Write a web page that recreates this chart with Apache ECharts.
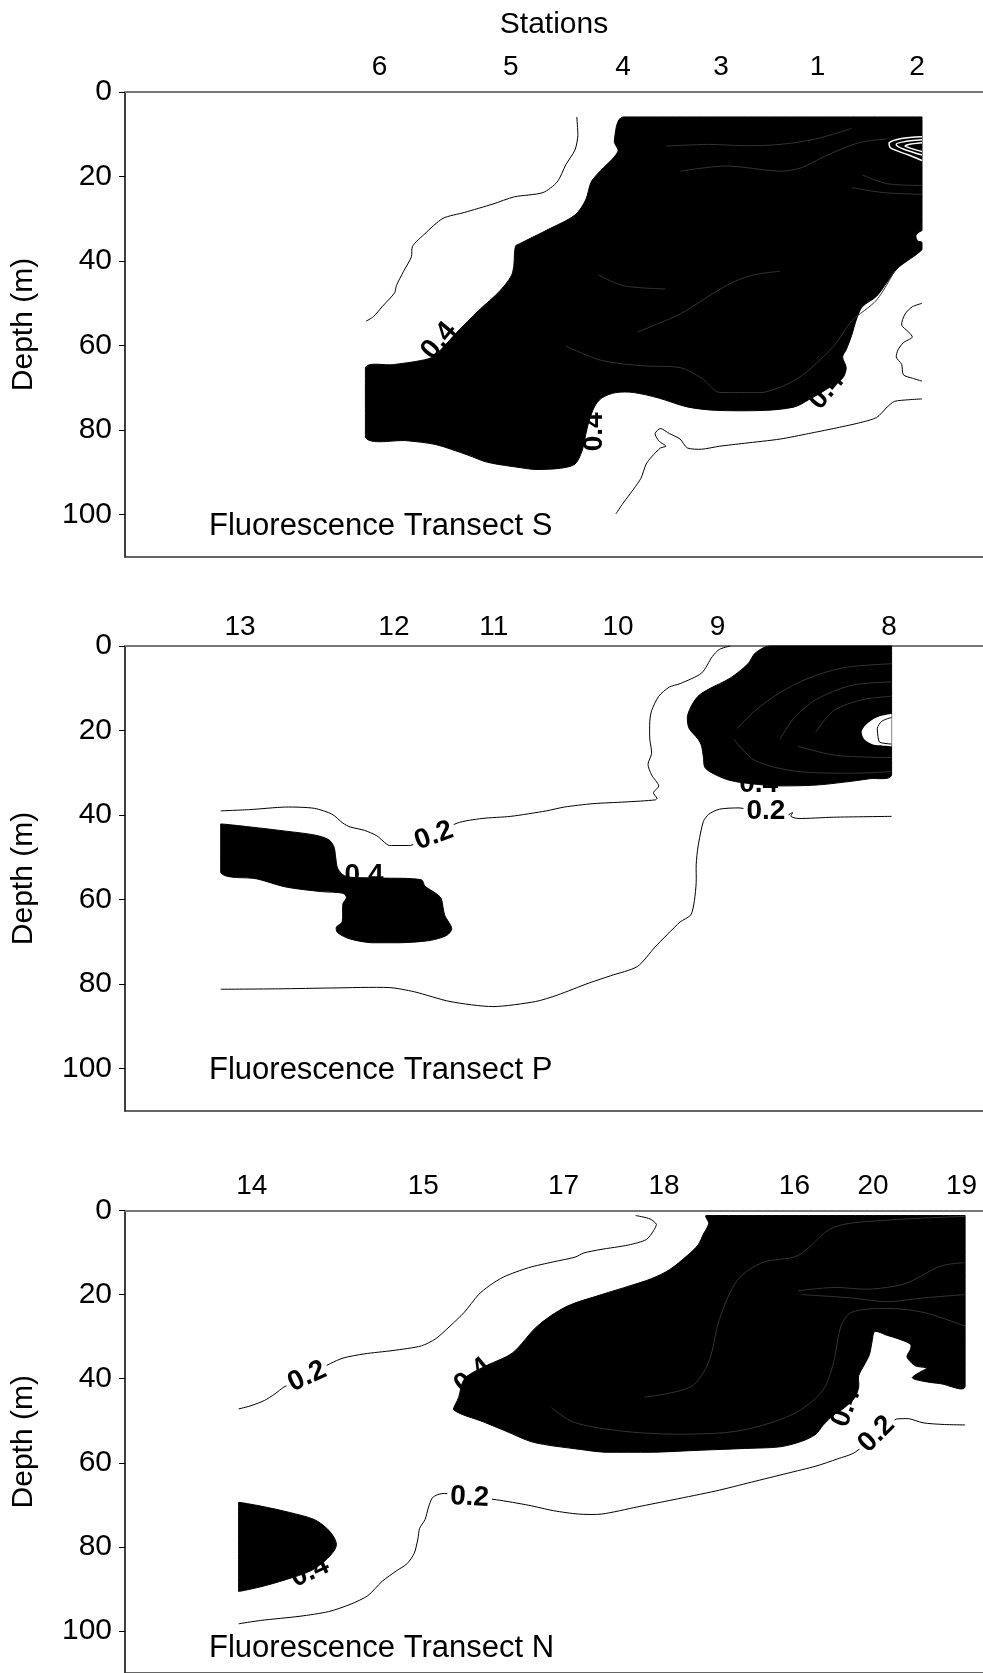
<!DOCTYPE html>
<html>
<head>
<meta charset="utf-8">
<title>Fluorescence transects</title>
<script src="https://cdn.jsdelivr.net/npm/echarts@6/dist/echarts.min.js"></script>
<style>
    html, body { margin: 0; padding: 0; background: #fff; }
    #chart { width: 983px; height: 1673px; }
</style>
</head>
<body>
<div id="chart"></div>
<script>
// x = distance along the transect (plot units), depth in m

// ---- Transect S ----
const stationNamesS = ['6', '5', '4', '3', '1', '2'];
const stationPosS = [254.6, 385.7, 498, 596, 692.6, 792];
const fillS = [
    [498.2, 5.9], [797, 5.9], [797, 32.7], [794.4, 33.1], [790.9, 34.0], [792.6, 35.2], [797, 35.6],
    [797, 37.3], [773, 41.6], [762.3, 44.9], [751.6, 48.3], [737.3, 50.8], [732, 53.4], [726.6, 57.6],
    [721.2, 61.0], [717.6, 62.7], [721.2, 65.2], [717.6, 67.7], [701.6, 70.3], [683.7, 72.8],
    [669.4, 74.5], [640.9, 75.3], [590.9, 75.3], [562.3, 74.5], [533.7, 72.4], [508.7, 71.1],
    [490.9, 71.1], [476.6, 72.4], [469.4, 74.5], [464, 77.9], [460.5, 81.3], [456.9, 85.0],
    [450, 88.0], [435.7, 89.0], [410.7, 89.3], [396.4, 88.9], [362.5, 87.6], [342.9, 85.9],
    [310.7, 83.4], [282.1, 82.5], [240.4, 81.7], [240.4, 65.2], [267.9, 64.5], [296.4, 63.5],
    [308.9, 62.5], [332.1, 56.8], [353.6, 51.7], [375, 47.0], [387.5, 42.8], [390.4, 36.5],
    [394.6, 35.9], [425, 32.3], [450, 29.1], [460.7, 25.5], [466.1, 21.3], [473.2, 19.2],
    [492.9, 14.1], [489.3, 11.6]
];
const innerS = [
    [[540.9, 12.8], [583.7, 12.4], [619.4, 12.7], [655.1, 12.4], [690.9, 11.1], [726.6, 8.6]],
    [[555.1, 18.75], [601.6, 17.5], [655.1, 18.75], [676.6, 17.9], [698, 15.4], [733.7, 12.0], [762.3, 11.1]],
    [[512.3, 56.8], [555.1, 52.5], [583.7, 48.3], [608.7, 44.9], [630.1, 43.2], [655.1, 42.4]],
    [[440.9, 60.1], [476.6, 63.5], [519.4, 64.8], [555.1, 65.2], [576.6, 67.7], [594.4, 71.1],
     [637.3, 71.1], [673, 67.7], [708.7, 60.1], [726.6, 54.2], [751.6, 49.2], [769.4, 42.4]],
    [[473, 43.2], [498, 45.8], [540.9, 46.6]],
    [[797, 22.1], [762.3, 21.7], [737.3, 19.6]],
    [[797, 24.2], [758.7, 23.8], [726.6, 22.6]]
];
const ringsS = [
    [[797, 10.6], [776.6, 11.0], [764.1, 12.0], [765.9, 13.3], [783.7, 14.9], [797, 16.2]],
    [[797, 11.3], [778.4, 11.8], [771.2, 12.4], [778.4, 13.5], [797, 14.9]],
    [[797, 12.0], [783.7, 12.4], [780.1, 12.8], [797, 14.1]]
];
const linesS = [
    [[451.8, 5.9], [452.9, 10.3], [450, 13.7], [441.1, 17.1], [432.1, 21.3], [417.9, 23.8], [389.3, 24.8],
     [367.9, 26.5], [339.3, 28.5], [317.9, 29.9], [300, 33.5], [287.5, 36.5], [286.4, 39.0], [278.6, 42.4],
     [271.4, 45.8], [269.6, 47.5], [257.1, 50.8], [248.2, 53.2], [241.1, 54.2]],
    [[490.9, 99.8], [498, 97.3], [508.7, 93.9], [515.9, 91.4], [521.2, 88.0], [526.6, 86.3], [535.5, 84.2],
     [540.9, 83.8], [533.7, 82.5], [530.1, 80.8], [535.5, 79.6], [544.4, 80.8], [555.1, 82.1], [562.3, 84.2],
     [576.6, 84.5], [594.4, 83.8], [619.4, 83.1], [655.1, 82.1], [683.7, 80.8], [708.7, 79.6], [733.7, 78.3],
     [751.6, 77.0], [762.3, 74.5], [769.4, 73.2], [783.7, 72.8], [797, 72.6]],
    [[797, 50.0], [787.3, 50.8], [780.1, 52.5], [776.6, 55.1], [783.7, 56.8], [787.3, 58.0], [778.4, 59.3],
     [773, 61.0], [771.2, 62.7], [776.6, 64.4], [778.4, 66.9], [787.3, 67.7], [797, 68.4]]
];
const labelsS = [[314, 58.9, '0.4'], [469, 80.4, '0.4'], [701.6, 70.7, '0.4']];
const labelAngleS = [50, 90, 50];

// ---- Transect P ----
const stationNamesP = ['13', '12', '11', '10', '9', '8'];
const stationPosP = [115, 268.9, 368.9, 493, 592.6, 764.1];
const fillP = [
    [[95.7, 42.1], [125, 42.8], [160.7, 43.8], [189.3, 44.7], [203.6, 45.8], [208.9, 47.5], [210.7, 50.0],
     [212.5, 52.5], [217.9, 54.1], [225, 54.7], [257.1, 54.9], [296.4, 55.3], [300, 56.8], [310.7, 58.5],
     [316.1, 59.7], [319.6, 63.6], [326.8, 66.9], [321.4, 68.5], [303.6, 69.7], [275, 70.2], [246.4, 70.2],
     [225, 69.3], [212.5, 67.8], [211.4, 66.5], [217.1, 65.3], [217.9, 61.0], [221.4, 59.5], [217.9, 58.5],
     [196.4, 58.1], [160.7, 57.0], [132.1, 55.1], [95.7, 53.6]],
    [[644.4, 0], [766.6, 0], [766.6, 30.5], [744.4, 31.4], [719.4, 32.2], [690.9, 32.9], [655.1, 33.1],
     [626.6, 32.6], [605.1, 31.8], [590.9, 30.5], [580.1, 28.8], [578.4, 26.3], [576.6, 23.7], [573, 22.0],
     [564.1, 19.5], [562.3, 16.9], [565.9, 14.4], [573, 11.9], [583.7, 10.2], [605.1, 7.6], [623, 4.2],
     [630.1, 1.7]]
];
const innerP = [
    [[612.3, 19.5], [630.1, 15.3], [655.1, 11.0], [683.7, 7.6], [719.4, 5.1], [766.6, 4.2]],
    [[608.7, 22.0], [630.1, 27.1], [673, 29.7], [726.6, 30.1], [766.6, 29.7]],
    [[655.1, 22.0], [669.4, 16.9], [690.9, 12.7], [726.6, 9.3], [766.6, 8.5]],
    [[673, 23.7], [708.7, 25.8], [744.4, 26.3], [766.6, 26.4]],
    [[690.9, 20.3], [708.7, 15.3], [737.3, 12.7], [766.6, 11.9]]
];
const holeP = [[766.6, 16.1], [751.6, 16.9], [740.9, 18.6], [736.6, 20.3], [739.1, 22.0], [748, 23.3], [766.6, 23.7]];
const holeLineP = [[766.6, 16.9], [756.8, 17.8], [752.3, 19.5], [753.4, 22.0], [755, 22.8], [766.6, 23.2]];
const linesP = [
    [[95.7, 39.0], [125, 38.7], [160.7, 38.1], [189.3, 38.4], [207.1, 39.8], [217.9, 41.9], [225, 42.8],
     [239.3, 43.6], [251.8, 44.9], [264.3, 47.2], [285.7, 47.2], [332.1, 41.9], [357.1, 40.8], [385.7, 40.3],
     [421.4, 39.0], [439.3, 38.1], [467.9, 37.3], [500, 36.9], [530.4, 36.4], [531.9, 36.0], [528.4, 34.7],
     [533.7, 33.1], [526.6, 30.5], [523, 28.0], [526.6, 25.4], [524.8, 22.0], [524.8, 17.8], [526.6, 15.3],
     [533.7, 11.9], [544.4, 9.7], [555.1, 8.9], [576.6, 6.4], [587.3, 2.5], [594.4, 0.8], [605.1, 0]],
    [[95.7, 81.2], [153.6, 81.1], [207.1, 80.9], [264.3, 80.8], [289.3, 81.8], [325, 84.1], [367.9, 85.3],
     [410.7, 84.1], [432.1, 82.6], [464.3, 79.7], [485.7, 78.0], [512.5, 75.8], [530.1, 71.2], [555.1, 65.3],
     [565.9, 63.6], [569.4, 60.2], [571.2, 55.9], [571.2, 51.7], [573, 47.5], [578.4, 41.5], [583.7, 39.8],
     [594.4, 38.6], [614.1, 38.3], [662.3, 40.0], [667.6, 39.4], [665.9, 40.3], [673, 40.8], [708.7, 40.5],
     [766.6, 40.3]]
];
const labelsP = [[309, 44.9, '0.2'], [239, 54.2, '0.4'], [633.7, 32.6, '0.4'], [640.9, 39.0, '0.2']];
const labelAngleP = [20, 0, 0, 0];

// ---- Transect N ----
const stationNamesN = ['14', '15', '17', '18', '16', '20', '19'];
const stationPosN = [126.8, 298.2, 438.6, 539, 669.4, 748, 836.6];
const fillN = [
    [[113.6, 69.4], [135.7, 70.3], [164.3, 71.8], [189.3, 73.5], [201.8, 75.6], [208.9, 77.7], [211.4, 79.4],
     [208.9, 81.0], [200, 83.3], [185.7, 85.7], [160.7, 87.8], [135.7, 89.5], [113.6, 90.6]],
    [[581.2, 1.2], [840.1, 1.2], [840.1, 41.9], [815.9, 41.2], [798, 40.6], [787.3, 39.8], [794.4, 38.5],
     [801.6, 37.5], [790.9, 37.0], [785.5, 36.0], [781.9, 34.7], [785.5, 33.0], [785.5, 31.8], [773, 30.5],
     [762.3, 29.7], [749.8, 28.8], [747.3, 30.9], [744.4, 34.3], [739.1, 36.8], [733.7, 39.3], [733.7, 41.9],
     [730.1, 44.4], [719.4, 46.9], [708.7, 48.6], [698, 51.1], [690.9, 53.2], [676.6, 54.9], [655.1, 56.2],
     [619.4, 56.6], [576.6, 57.0], [526.6, 57.5], [480.1, 57.5], [448, 56.6], [423, 55.8], [405.1, 54.9],
     [380.1, 52.4], [358.7, 50.3], [328.4, 47.3], [333.7, 44.4], [337.3, 41.0], [342.6, 39.3], [362.3, 36.8],
     [387.3, 33.9], [412.3, 27.5], [440.9, 22.9], [476.6, 20.0], [505.1, 17.9], [526.6, 16.2], [544.4, 14.1],
     [562.3, 10.7], [573, 8.2], [578.4, 5.6], [583.7, 3.1]]
];
const innerN = [
    [[426.6, 46.9], [448, 50.3], [494.4, 52.4], [548, 53.2], [601.6, 52.8], [637.3, 51.1], [673, 47.8],
     [698, 42.7], [708.7, 36.0], [715.9, 27.5], [726.6, 24.2], [762.3, 23.3], [798, 24.2], [840.1, 27.5]],
    [[519.4, 44.4], [565.9, 41.9], [583.7, 36.0], [594.4, 25.9], [612.3, 16.6], [637.3, 12.4], [673, 10.7],
     [708.7, 4.0], [762.3, 2.3], [840.1, 1.4]],
    [[673, 19.1], [708.7, 18.3], [744.4, 18.7], [780.1, 17.4], [815.9, 13.2], [840.1, 12.4]],
    [[676.6, 20.0], [726.6, 20.8], [762.3, 21.7], [798, 20.8], [840.1, 20.0]]
];
const linesN = [
    [[113.6, 47.2], [125, 46.5], [139.3, 45.2], [150, 43.6], [158.9, 42.0], [205.4, 36.4], [217.9, 35.1],
     [239.3, 34.1], [267.9, 33.3], [296.4, 32.2], [310.7, 30.5], [325, 27.5], [339.3, 24.2], [353.6, 20.0],
     [364.3, 17.9], [378.6, 15.8], [403.6, 13.6], [428.6, 12.2], [450, 11.1], [458.9, 10.1], [475, 9.3],
     [503.6, 8.2], [521.4, 6.9], [528.6, 4.8], [531.4, 3.3], [525, 2.0], [510.7, 1.2]],
    [[113.6, 98.3], [135.7, 97.5], [175, 96.5], [203.6, 95.4], [225, 93.7], [242.9, 91.6], [257.1, 88.2],
     [271.4, 85.7], [282.1, 84.0], [289.3, 81.5], [292.9, 78.1], [294.6, 75.6], [300, 73.5], [303.6, 70.5],
     [307.1, 68.4], [312.5, 67.6], [319.6, 67.3], [371.4, 68.8], [403.6, 70.1], [428.6, 71.4], [453.6, 72.2],
     [476.6, 72.2], [512.3, 70.5], [548, 68.8], [590.9, 66.7], [626.6, 64.6], [662.3, 62.5], [690.9, 60.8],
     [712.3, 59.1], [730.1, 57.5], [771.2, 49.6], [783.7, 49.5], [798, 50.5], [819.4, 50.9], [840.1, 51.0]]
];
const labelsN = [[182.1, 39.5, '0.2'], [348, 39.3, '0.4'], [344.6, 68.2, '0.2'], [185, 86, '0.4'],
    [721.2, 46.9, '0.4'], [751.6, 53.2, '0.2']];
const labelAngleN = [25, 40, -3, 25, 70, 45];

const depthTicks = [0, 20, 40, 60, 80, 100];
const panelTitles = ['Fluorescence Transect S', 'Fluorescence Transect P', 'Fluorescence Transect N'];

const FONT = '"Liberation Sans", Arial, sans-serif';
const gridTops = [92, 646, 1210.5];
const stationMargins = [11, 5, 10];
const titleY = [527, 1071, 1649];

const panels = [
    { names: stationNamesS, pos: stationPosS, fills: [fillS], inner: innerS, rings: ringsS, holes: [], holeLines: [],
      lines: linesS, labels: labelsS, angles: labelAngleS },
    { names: stationNamesP, pos: stationPosP, fills: fillP, inner: innerP, rings: [], holes: [holeP], holeLines: [holeLineP],
      lines: linesP, labels: labelsP, angles: labelAngleP },
    { names: stationNamesN, pos: stationPosN, fills: fillN, inner: innerN, rings: [], holes: [], holeLines: [],
      lines: linesN, labels: labelsN, angles: labelAngleN }
];

// smoothing kept inside the outline's own bounding box, so straight edges do not bulge
function shapeSeries(idx, shapes, kind, style, smooth) {
    return {
        type: 'custom',
        xAxisIndex: idx * 2,
        yAxisIndex: idx,
        silent: true,
        animation: false,
        data: shapes.map(s => s[0]),
        renderItem: (params, api) => {
            const pts = shapes[params.dataIndex].map(p => api.coord(p));
            const xs = pts.map(p => p[0]), ys = pts.map(p => p[1]);
            const box = [[Math.min(...xs), Math.min(...ys)], [Math.max(...xs), Math.max(...ys)]];
            return {
                type: kind,
                shape: { points: pts, smooth: smooth, smoothConstraint: box },
                style: style
            };
        }
    };
}

function labelSeries(idx, labels, angles) {
    return {
        type: 'custom',
        xAxisIndex: idx * 2,
        yAxisIndex: idx,
        silent: true,
        animation: false,
        data: labels.map(l => [l[0], l[1]]),
        renderItem: (params, api) => {
            const l = labels[params.dataIndex];
            const p = api.coord([l[0], l[1]]);
            const isLow = l[2] === '0.2';
            return {
                type: 'text',
                x: p[0],
                y: p[1],
                rotation: angles[params.dataIndex] * Math.PI / 180,
                style: {
                    text: l[2],
                    fill: '#000',
                    font: 'bold 28px ' + FONT,
                    align: 'center',
                    verticalAlign: 'middle',
                    backgroundColor: isLow ? '#fff' : null,
                    padding: isLow ? [0, 3] : 0
                }
            };
        }
    };
}

const chart = echarts.init(document.getElementById('chart'));

const grid = [], xAxis = [], yAxis = [], series = [], graphic = [];
panels.forEach((pn, i) => {
    grid.push({ left: 125, top: gridTops[i], width: 858, height: 465 });
    xAxis.push({
        type: 'value', gridIndex: i, position: 'top', min: 0, max: 858,
        name: i === 0 ? 'Stations' : '',
        nameLocation: 'middle', nameGap: 52,
        nameTextStyle: { fontFamily: FONT, fontSize: 30, color: '#000' },
        axisLine: { show: true, lineStyle: { color: '#777', width: 2 } },
        axisTick: { show: false },
        splitLine: { show: false },
        axisLabel: {
            customValues: pn.pos,
            margin: stationMargins[i],
            fontFamily: FONT, fontSize: 28, color: '#000',
            formatter: v => {
                const k = pn.pos.findIndex(p => Math.abs(p - v) < 0.01);
                return k >= 0 ? pn.names[k] : '';
            }
        }
    });
    xAxis.push({
        type: 'value', gridIndex: i, position: 'bottom', min: 0, max: 858,
        axisLine: { show: true, lineStyle: { color: '#333', width: 1.5 } },
        axisTick: { show: false }, axisLabel: { show: false }, splitLine: { show: false }
    });
    yAxis.push({
        type: 'value', gridIndex: i, inverse: true, min: 0, max: 110,
        name: 'Depth (m)', nameLocation: 'middle', nameGap: 86, nameRotate: 90,
        nameTextStyle: { fontFamily: FONT, fontSize: 30, color: '#000' },
        axisLine: { show: true, lineStyle: { color: '#000', width: 1.5 } },
        axisTick: { show: true, length: 6, customValues: depthTicks, lineStyle: { color: '#000' } },
        axisLabel: { customValues: depthTicks, margin: 13, fontFamily: FONT, fontSize: 30, color: '#000' },
        splitLine: { show: false }
    });

    series.push(shapeSeries(i, pn.fills, 'polygon', { fill: '#000', stroke: '#000', lineWidth: 1 }, 0.3));
    series.push(shapeSeries(i, pn.inner, 'polyline', { fill: null, stroke: '#333', lineWidth: 1 }, 0.3));
    if (pn.rings.length) series.push(shapeSeries(i, pn.rings, 'polyline', { fill: null, stroke: '#fff', lineWidth: 1.5 }, 0.3));
    if (pn.holes.length) series.push(shapeSeries(i, pn.holes, 'polygon', { fill: '#fff', stroke: null }, 0.3));
    if (pn.holeLines.length) series.push(shapeSeries(i, pn.holeLines, 'polyline', { fill: null, stroke: '#000', lineWidth: 1 }, 0.3));
    series.push(shapeSeries(i, pn.lines, 'polyline', { fill: null, stroke: '#000', lineWidth: 1 }, 0.25));
    series.push(labelSeries(i, pn.labels, pn.angles));

    graphic.push({
        type: 'text', left: 209, top: titleY[i] - 16,
        style: { text: panelTitles[i], font: '31px ' + FONT, fill: '#000' }
    });
});

chart.setOption({
    animation: false,
    backgroundColor: '#fff',
    grid: grid,
    xAxis: xAxis,
    yAxis: yAxis,
    series: series,
    graphic: graphic
});
</script>
</body>
</html>
